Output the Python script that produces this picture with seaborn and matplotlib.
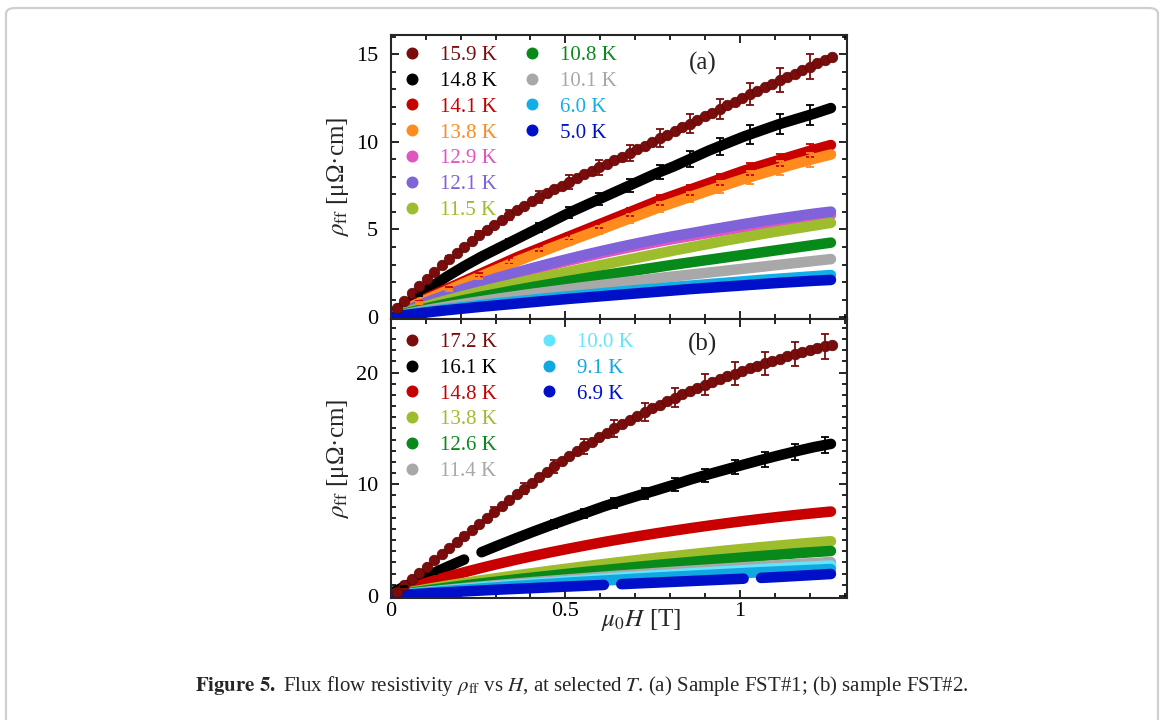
import numpy as np
import pandas as pd
import matplotlib
matplotlib.use("Agg")
import matplotlib.pyplot as plt
import matplotlib.ticker as ticker
from matplotlib.lines import Line2D
from matplotlib.patches import FancyBboxPatch
import seaborn as sns

# field values (T) of the sparse curves (15.9 K / 17.2 K) and of the dense bands
H_dot = [0.017, 0.0385, 0.06, 0.0815, 0.103, 0.1245, 0.146, 0.1675, 0.189, 0.2105,
         0.232, 0.2535, 0.275, 0.2965, 0.318, 0.3395, 0.361, 0.3825, 0.404, 0.4255,
         0.447, 0.4685, 0.49, 0.5115, 0.533, 0.5545, 0.576, 0.5975, 0.619, 0.6405,
         0.662, 0.6835, 0.705, 0.7265, 0.748, 0.7695, 0.791, 0.8125, 0.834, 0.8555,
         0.877, 0.8985, 0.92, 0.9415, 0.963, 0.9845, 1.006, 1.0275, 1.049, 1.0705,
         1.092, 1.1135, 1.135, 1.1565, 1.178, 1.1995, 1.221, 1.2425, 1.264]
H_band = [0.01, 0.06, 0.11, 0.16, 0.21, 0.26, 0.31, 0.36, 0.41, 0.46, 0.51, 0.56, 0.61,
          0.66, 0.71, 0.76, 0.81, 0.86, 0.91, 0.96, 1.01, 1.06, 1.11, 1.16, 1.21, 1.26]

# ---- (a) sample FST#1, rho_ff in micro-ohm cm
rho_a_159 = [0.50, 0.92, 1.38, 1.79, 2.18, 2.58, 2.96, 3.31, 3.67, 4.02,
             4.36, 4.67, 4.97, 5.26, 5.55, 5.84, 6.10, 6.36, 6.61, 6.84,
             7.07, 7.29, 7.50, 7.72, 7.93, 8.14, 8.35, 8.56, 8.76, 8.96,
             9.16, 9.37, 9.58, 9.79, 10.00, 10.20, 10.41, 10.62, 10.83, 11.04,
             11.25, 11.46, 11.67, 11.88, 12.09, 12.30, 12.51, 12.72, 12.93, 13.13,
             13.33, 13.53, 13.72, 13.90, 14.08, 14.30, 14.48, 14.66, 14.85]
rho_a_148 = [0.25, 0.95, 1.65, 2.3, 2.9, 3.45, 3.95, 4.45, 4.95, 5.45, 5.95, 6.4, 6.85,
             7.3, 7.75, 8.2, 8.6, 9.05, 9.5, 9.9, 10.3, 10.65, 11.0, 11.3, 11.6, 11.93]
rho_a_141 = [0.15, 0.65, 1.15, 1.6, 2.05, 2.5, 2.95, 3.4, 3.8, 4.2, 4.6, 5.0, 5.4,
             5.8, 6.2, 6.6, 6.95, 7.3, 7.65, 8.0, 8.35, 8.65, 8.95, 9.25, 9.55, 9.82]
rho_a_138 = [0.12, 0.6, 1.07, 1.5, 1.93, 2.35, 2.77, 3.18, 3.57, 3.95, 4.33, 4.7, 5.07,
             5.45, 5.82, 6.2, 6.54, 6.88, 7.22, 7.55, 7.88, 8.18, 8.47, 8.76, 9.03, 9.28]
rho_a_129 = [0.09, 0.47, 0.86, 1.22, 1.56, 1.88, 2.19, 2.47, 2.73, 2.98, 3.22, 3.45, 3.67,
             3.88, 4.08, 4.28, 4.46, 4.63, 4.8, 4.97, 5.13, 5.28, 5.43, 5.57, 5.7, 5.83]
rho_a_121 = [0.1, 0.5, 0.9, 1.27, 1.62, 1.95, 2.27, 2.55, 2.82, 3.08, 3.33, 3.57, 3.8,
             4.02, 4.23, 4.43, 4.62, 4.79, 4.97, 5.14, 5.31, 5.47, 5.62, 5.76, 5.9, 6.02]
rho_a_115 = [0.06, 0.38, 0.68, 0.96, 1.22, 1.47, 1.71, 1.94, 2.16, 2.38, 2.59, 2.8, 3.0,
             3.2, 3.4, 3.6, 3.8, 3.99, 4.18, 4.37, 4.55, 4.73, 4.9, 5.06, 5.22, 5.38]
rho_a_108 = [0.05, 0.3, 0.54, 0.76, 0.97, 1.17, 1.36, 1.55, 1.73, 1.9, 2.07, 2.23, 2.39,
             2.54, 2.69, 2.84, 2.99, 3.13, 3.27, 3.41, 3.55, 3.69, 3.83, 3.97, 4.11, 4.25]
rho_a_101 = [0.04, 0.24, 0.43, 0.6, 0.76, 0.91, 1.06, 1.2, 1.34, 1.47, 1.6, 1.73, 1.85,
             1.97, 2.09, 2.21, 2.32, 2.43, 2.54, 2.65, 2.76, 2.87, 2.98, 3.09, 3.2, 3.31]
rho_a_60 = [0.04, 0.19, 0.33, 0.46, 0.58, 0.69, 0.8, 0.9, 1.0, 1.1, 1.19, 1.28, 1.37,
            1.46, 1.55, 1.63, 1.72, 1.8, 1.88, 1.96, 2.04, 2.12, 2.19, 2.26, 2.33, 2.4]
rho_a_50 = [0.03, 0.16, 0.28, 0.39, 0.49, 0.59, 0.68, 0.77, 0.86, 0.95, 1.04, 1.12, 1.2,
            1.28, 1.36, 1.44, 1.52, 1.6, 1.67, 1.74, 1.81, 1.88, 1.95, 2.01, 2.07, 2.12]

# error bars of panel (a)
H_err_a = [0.0815, 0.1675, 0.2535, 0.3395, 0.4255, 0.5115, 0.5975, 0.6835, 0.7695,
           0.8555, 0.9415, 1.0275, 1.1135, 1.1995]
err_a_159 = [0.09, 0.17, 0.23, 0.29, 0.34, 0.39, 0.43, 0.47, 0.51, 0.55, 0.59, 0.64, 0.68, 0.72]
val_a_148 = [1.25, 2.39, 3.38, 4.25, 5.1, 5.96, 6.74, 7.51, 8.28, 9.01, 9.75, 10.42, 11.02, 11.54]
err_a_148 = [0.06, 0.12, 0.17, 0.21, 0.26, 0.3, 0.34, 0.38, 0.41, 0.45, 0.49, 0.52, 0.55, 0.58]
val_a_141 = [0.87, 1.67, 2.44, 3.22, 3.92, 4.61, 5.3, 5.99, 6.67, 7.27, 7.87, 8.46, 8.97, 9.49]
err_a_141 = [0.03, 0.07, 0.1, 0.13, 0.16, 0.18, 0.21, 0.24, 0.27, 0.29, 0.31, 0.34, 0.36, 0.38]
val_a_138 = [0.8, 1.56, 2.3, 3.02, 3.69, 4.34, 4.98, 5.63, 6.26, 6.85, 7.43, 7.98, 8.49, 8.97]
err_a_138 = [0.04, 0.07, 0.11, 0.14, 0.17, 0.2, 0.23, 0.26, 0.29, 0.31, 0.34, 0.37, 0.39, 0.41]

# ---- (b) sample FST#2
rho_b_172 = [0.40, 0.96, 1.52, 2.08, 2.64, 3.20, 3.76, 4.31, 4.86, 5.41,
             5.95, 6.49, 7.02, 7.55, 8.07, 8.59, 9.10, 9.61, 10.12, 10.62,
             11.12, 11.60, 12.07, 12.52, 12.96, 13.39, 13.81, 14.22, 14.62, 15.01,
             15.39, 15.76, 16.12, 16.47, 16.81, 17.14, 17.46, 17.77, 18.07, 18.36,
             18.64, 18.91, 19.17, 19.42, 19.67, 19.91, 20.15, 20.38, 20.61, 20.83,
             21.05, 21.26, 21.46, 21.66, 21.85, 22.03, 22.20, 22.36, 22.50]
rho_b_161 = [0.4, 1.15, 1.88, 2.58, 3.26, 3.92, 4.56, 5.18, 5.78, 6.36, 6.92, 7.46, 8.02,
             8.52, 9.0, 9.47, 9.95, 10.45, 10.9, 11.33, 11.76, 12.18, 12.58, 12.96, 13.32, 13.62]
rho_b_148 = [0.2, 0.75, 1.25, 1.7, 2.12, 2.52, 2.9, 3.26, 3.6, 3.93, 4.24, 4.54, 4.83,
             5.1, 5.36, 5.61, 5.85, 6.08, 6.3, 6.51, 6.71, 6.9, 7.08, 7.25, 7.41, 7.56]
rho_b_138 = [0.08, 0.38, 0.66, 0.92, 1.17, 1.41, 1.63, 1.85, 2.06, 2.27, 2.47, 2.67, 2.86,
             3.05, 3.23, 3.41, 3.57, 3.74, 3.91, 4.07, 4.22, 4.37, 4.51, 4.65, 4.78, 4.9]
rho_b_126 = [0.06, 0.3, 0.53, 0.74, 0.94, 1.13, 1.31, 1.49, 1.66, 1.83, 2.0, 2.16, 2.32,
             2.47, 2.62, 2.77, 2.91, 3.05, 3.19, 3.32, 3.45, 3.58, 3.7, 3.82, 3.93, 4.03]
rho_b_114 = [0.05, 0.23, 0.4, 0.56, 0.71, 0.85, 0.99, 1.12, 1.25, 1.37, 1.49, 1.61, 1.73,
             1.84, 1.95, 2.06, 2.17, 2.27, 2.37, 2.47, 2.57, 2.67, 2.77, 2.86, 2.95, 3.04]
rho_b_100 = [0.04, 0.21, 0.36, 0.5, 0.64, 0.77, 0.89, 1.01, 1.12, 1.23, 1.34, 1.45, 1.56,
             1.66, 1.76, 1.85, 1.95, 2.04, 2.13, 2.22, 2.31, 2.4, 2.49, 2.57, 2.65, 2.73]
rho_b_91 = [0.03, 0.18, 0.32, 0.45, 0.57, 0.68, 0.79, 0.9, 1.0, 1.1, 1.2, 1.29, 1.38,
            1.47, 1.56, 1.65, 1.73, 1.81, 1.89, 1.97, 2.05, 2.13, 2.2, 2.27, 2.34, 2.41]
rho_b_69 = [0.03, 0.14, 0.24, 0.33, 0.41, 0.49, 0.57, 0.64, 0.71, 0.78, 0.85, 0.92, 0.99,
            1.06, 1.13, 1.2, 1.27, 1.34, 1.41, 1.48, 1.55, 1.62, 1.7, 1.79, 1.88, 1.97]

H_err_b = [0.0385, 0.1245, 0.2105, 0.2965, 0.3825, 0.4685, 0.5545, 0.6405, 0.7265,
           0.8125, 0.8985, 0.9845, 1.0705, 1.1565, 1.2425]
err_b_172 = [0.05, 0.16, 0.27, 0.38, 0.48, 0.58, 0.67, 0.75, 0.82, 0.89, 0.95, 1.0, 1.04, 1.08, 1.12]
val_b_161 = [0.83, 2.08, 3.27, 4.39, 5.45, 6.46, 7.4, 8.33, 9.16, 9.97, 10.79, 11.54, 12.26, 12.93, 13.52]
err_b_161 = [0.05, 0.11, 0.18, 0.24, 0.3, 0.36, 0.41, 0.46, 0.5, 0.55, 0.59, 0.63, 0.67, 0.71, 0.74]

# gaps in the measured bands (last field before the gap)
gaps_b = {"16.1 K": [0.21], "6.9 K": [0.61, 1.01]}

labels_a = ["15.9 K", "14.8 K", "14.1 K", "13.8 K", "12.9 K", "12.1 K", "11.5 K",
            "10.8 K", "10.1 K", "6.0 K", "5.0 K"]
labels_b = ["17.2 K", "16.1 K", "14.8 K", "13.8 K", "12.6 K", "11.4 K", "10.0 K", "9.1 K", "6.9 K"]
colors_a = ["#7a0c0c", "#000000", "#c80000", "#ff8a1e", "#e055c0", "#8063d8", "#9ebd2c",
            "#088a1a", "#a8a8a8", "#12aee8", "#0010c8"]
colors_b = ["#7a0c0c", "#000000", "#c80000", "#9ebd2c", "#088a1a", "#a8a8a8", "#63e4ff",
            "#10a8e2", "#0010c8"]

bands_a = dict(zip(labels_a[1:], [rho_a_148, rho_a_141, rho_a_138, rho_a_129, rho_a_121,
                                  rho_a_115, rho_a_108, rho_a_101, rho_a_60, rho_a_50]))
bands_b = dict(zip(labels_b[1:], [rho_b_161, rho_b_148, rho_b_138, rho_b_126, rho_b_114,
                                  rho_b_100, rho_b_91, rho_b_69]))


def band_frame(bands, gaps):
    rows = []
    for lab, vals in bands.items():
        seg = 0
        for h, v in zip(H_band, vals):
            rows.append((lab, seg, h, v))
            if h in gaps.get(lab, []):
                seg += 1
    return pd.DataFrame(rows, columns=["T", "seg", "H", "rho"])


sns.set_style("ticks")
plt.rcParams["font.family"] = ["Liberation Serif", "DejaVu Serif"]
plt.rcParams["mathtext.fontset"] = "stix"
plt.rcParams["axes.linewidth"] = 1.5

W, Hpx = 1165, 720
fig = plt.figure(figsize=(W / 100, Hpx / 100), dpi=100)
x0, x1 = 390.7, 847
ax_a = fig.add_axes([x0 / W, (Hpx - 319) / Hpx, (x1 - x0) / W, (319 - 35) / Hpx])
ax_b = fig.add_axes([x0 / W, (Hpx - 598) / Hpx, (x1 - x0) / W, (598 - 319) / Hpx])

MS = 7.6
TICK_FS = 16
LAB_FS = 18
LEG_FS = 15
ebkw = dict(fmt="none", capsize=3, elinewidth=1.3, capthick=1.3, zorder=4)

# panel (a)
df_a = band_frame(bands_a, {})
sns.lineplot(data=df_a, x="H", y="rho", hue="T", units="seg", estimator=None, sort=False,
             hue_order=labels_a[1:], palette=dict(zip(labels_a, colors_a)), linewidth=MS,
             solid_capstyle="round", legend=False, ax=ax_a)
sns.scatterplot(x=H_dot, y=rho_a_159, color=colors_a[0], s=MS ** 2, edgecolor="#5a0606",
                linewidth=0.5, zorder=3, ax=ax_a)
ax_a.errorbar(H_err_a, rho_a_159[3::4], yerr=err_a_159, ecolor=colors_a[0], **ebkw)
ax_a.errorbar(H_err_a, val_a_148, yerr=err_a_148, ecolor=colors_a[1], **ebkw)
ax_a.errorbar(H_err_a, val_a_141, yerr=err_a_141, ecolor=colors_a[2], **ebkw)
ax_a.errorbar(H_err_a, val_a_138, yerr=err_a_138, ecolor=colors_a[3], **ebkw)

# panel (b)
df_b = band_frame(bands_b, gaps_b)
sns.lineplot(data=df_b, x="H", y="rho", hue="T", units="seg", estimator=None, sort=False,
             hue_order=labels_b[1:], palette=dict(zip(labels_b, colors_b)), linewidth=MS,
             solid_capstyle="round", legend=False, ax=ax_b)
sns.scatterplot(x=H_dot, y=rho_b_172, color=colors_b[0], s=MS ** 2, edgecolor="#5a0606",
                linewidth=0.5, zorder=3, ax=ax_b)
ax_b.errorbar(H_err_b, rho_b_172[1::4], yerr=err_b_172, ecolor=colors_b[0], **ebkw)
ax_b.errorbar(H_err_b, val_b_161, yerr=err_b_161, ecolor=colors_b[1], **ebkw)

# axes cosmetics
for ax in (ax_a, ax_b):
    ax.set_xlim(0, 1.306)
    ax.xaxis.set_major_locator(ticker.MultipleLocator(0.5))
    ax.xaxis.set_minor_locator(ticker.MultipleLocator(0.1))
    ax.xaxis.set_major_formatter(ticker.FuncFormatter(lambda v, p: "%g" % v))
    ax.yaxis.set_minor_locator(ticker.MultipleLocator(1))
    ax.tick_params(which="both", direction="in", top=True, right=True, width=1.2,
                   labelsize=TICK_FS, colors="black")
    ax.tick_params(which="major", length=6)
    ax.tick_params(which="minor", length=3.5)
    ax.tick_params(axis="y", pad=9)
    ax.tick_params(axis="x", pad=3)
    ax.set_ylabel(r"$\rho_{\rm ff}$ [μΩ·cm]", fontsize=LAB_FS, labelpad=0)
    ax.yaxis.set_label_coords(-0.088, 0.5)
    for s in ax.spines.values():
        s.set_linewidth(1.5)

ax_a.set_ylim(-0.11, 16.1)
ax_a.yaxis.set_major_locator(ticker.MultipleLocator(5))
ax_a.tick_params(labelbottom=False)
ax_a.set_xlabel("")
ax_b.set_ylim(-0.18, 24.8)
ax_b.yaxis.set_major_locator(ticker.MultipleLocator(10))
ax_b.set_xlabel(r"$\mu_0 H$ [T]", fontsize=LAB_FS, va="baseline")
ax_b.xaxis.set_label_coords(0.549, -0.10)

ax_a.text(0.684, 0.901, "(a)", transform=ax_a.transAxes, ha="center", va="center", fontsize=LAB_FS)
ax_b.text(0.684, 0.907, "(b)", transform=ax_b.transAxes, ha="center", va="center", fontsize=LAB_FS)

# legends: two columns, first one longer
blank = Line2D([], [], ls="none")


def dot(c):
    return Line2D([], [], ls="none", marker="o", ms=MS, mfc=c, mec=c)


def two_col_legend(ax, labels, colors, n1, anchor, colsp):
    n2 = len(labels) - n1
    hs = [dot(c) for c in colors] + [blank] * (n1 - n2)
    ls = list(labels) + [""] * (n1 - n2)
    leg = ax.legend(hs, ls, ncol=2, loc="upper left", bbox_to_anchor=anchor, frameon=False,
                    fontsize=LEG_FS, handlelength=1.0, handletextpad=0.85, columnspacing=colsp,
                    labelspacing=0.3, borderpad=0, borderaxespad=0)
    for t, c in zip(leg.get_texts(), colors):
        t.set_color(c)


two_col_legend(ax_a, labels_a, colors_a, 7, (0.024, 0.963), 1.18)
two_col_legend(ax_b, labels_b, colors_b, 6, (0.024, 0.952), 2.0)

# caption and page frame
cap = fig.text(582 / W, (Hpx - 686) / Hpx,
               r"$\mathbf{Figure\ 5.}$ Flux flow resistivity $\rho_{\rm ff}$ vs $H$, at selected $T$. "
               r"(a) Sample FST#1; (b) sample FST#2.",
               ha="center", va="center", fontsize=13)
fig.canvas.draw()
wcap = cap.get_window_extent().width
cap.set_fontsize(13 * 772 / wcap)

frame = FancyBboxPatch((6 / W, -0.05), (1158 - 6) / W, (712 / Hpx) + 0.05,
                       boxstyle="round,pad=0,rounding_size=0.008", transform=fig.transFigure,
                       fill=False, edgecolor="#cfcfcf", linewidth=1.6)
fig.patches.append(frame)

fig.savefig("out.png", dpi=100)
